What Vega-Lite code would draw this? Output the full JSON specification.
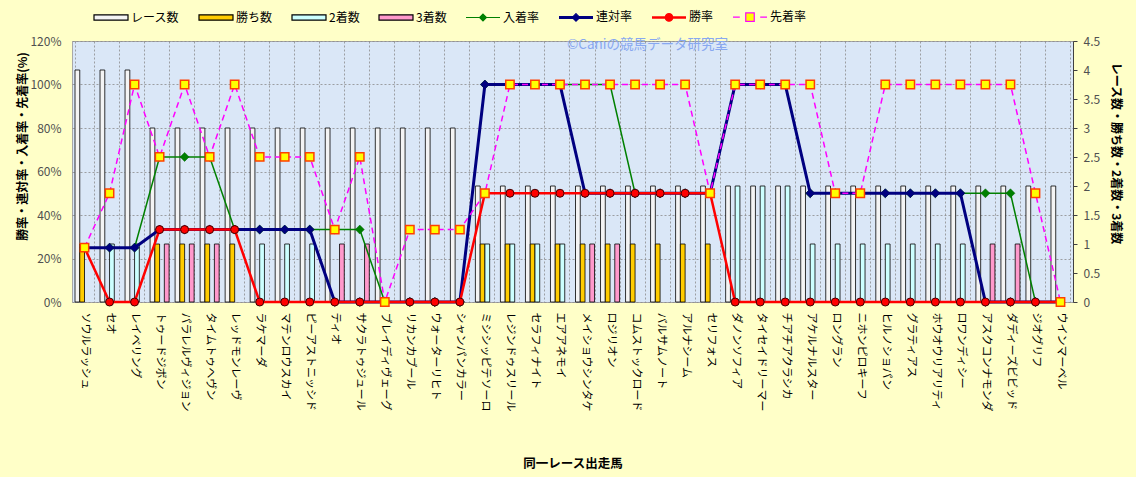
{
  "$schema": "https://vega.github.io/schema/vega-lite/v6.json",
  "width": 1001,
  "height": 261,
  "autosize": {"type": "none"},
  "padding": {"left": 72, "top": 41, "right": 63, "bottom": 175},
  "background": "#FFFFC8",
  "config": {
    "font": "Noto Sans CJK JP",
    "view": {"fill": "#DAE7F7", "stroke": "#A8A8A8", "strokeWidth": 1},
    "axis": {"labelFont": "Noto Sans CJK JP", "titleFont": "Noto Sans CJK JP"},
    "legend": {"labelFont": "Noto Sans CJK JP"}
  },
  "title": {
    "text": "©Caniの競馬データ研究室",
    "color": "#88A8F0",
    "fontSize": 13.5,
    "fontWeight": "normal",
    "anchor": "middle",
    "frame": "group",
    "baseline": "middle",
    "offset": 0,
    "dx": 75,
    "dy": 59,
    "zindex": 2
  },
  "data": {
    "values": [
      {"horse": "ソウルラッシュ", "レース数": 4, "勝ち数": 1, "2着数": 0, "3着数": 0, "勝率": 25, "連対率": 25, "入着率": 25, "先着率": 25},
      {"horse": "セオ", "レース数": 4, "勝ち数": 0, "2着数": 1, "3着数": 0, "勝率": 0, "連対率": 25, "入着率": 25, "先着率": 50},
      {"horse": "レイベリング", "レース数": 4, "勝ち数": 0, "2着数": 1, "3着数": 0, "勝率": 0, "連対率": 25, "入着率": 25, "先着率": 100},
      {"horse": "トゥードジボン", "レース数": 3, "勝ち数": 1, "2着数": 0, "3着数": 1, "勝率": 33.3, "連対率": 33.3, "入着率": 66.7, "先着率": 66.7},
      {"horse": "パラレルヴィジョン", "レース数": 3, "勝ち数": 1, "2着数": 0, "3着数": 1, "勝率": 33.3, "連対率": 33.3, "入着率": 66.7, "先着率": 100},
      {"horse": "タイムトゥヘヴン", "レース数": 3, "勝ち数": 1, "2着数": 0, "3着数": 1, "勝率": 33.3, "連対率": 33.3, "入着率": 66.7, "先着率": 66.7},
      {"horse": "レッドモンレーヴ", "レース数": 3, "勝ち数": 1, "2着数": 0, "3着数": 0, "勝率": 33.3, "連対率": 33.3, "入着率": 33.3, "先着率": 100},
      {"horse": "ラケマーダ", "レース数": 3, "勝ち数": 0, "2着数": 1, "3着数": 0, "勝率": 0, "連対率": 33.3, "入着率": 33.3, "先着率": 66.7},
      {"horse": "マテンロウスカイ", "レース数": 3, "勝ち数": 0, "2着数": 1, "3着数": 0, "勝率": 0, "連対率": 33.3, "入着率": 33.3, "先着率": 66.7},
      {"horse": "ピーアストニッシド", "レース数": 3, "勝ち数": 0, "2着数": 1, "3着数": 0, "勝率": 0, "連対率": 33.3, "入着率": 33.3, "先着率": 66.7},
      {"horse": "ティオ", "レース数": 3, "勝ち数": 0, "2着数": 0, "3着数": 1, "勝率": 0, "連対率": 0, "入着率": 33.3, "先着率": 33.3},
      {"horse": "サクラトゥジュール", "レース数": 3, "勝ち数": 0, "2着数": 0, "3着数": 1, "勝率": 0, "連対率": 0, "入着率": 33.3, "先着率": 66.7},
      {"horse": "ブレイディヴェーグ", "レース数": 3, "勝ち数": 0, "2着数": 0, "3着数": 0, "勝率": 0, "連対率": 0, "入着率": 0, "先着率": 0},
      {"horse": "リカンカブール", "レース数": 3, "勝ち数": 0, "2着数": 0, "3着数": 0, "勝率": 0, "連対率": 0, "入着率": 0, "先着率": 33.3},
      {"horse": "ウォーターリヒト", "レース数": 3, "勝ち数": 0, "2着数": 0, "3着数": 0, "勝率": 0, "連対率": 0, "入着率": 0, "先着率": 33.3},
      {"horse": "シャンパンカラー", "レース数": 3, "勝ち数": 0, "2着数": 0, "3着数": 0, "勝率": 0, "連対率": 0, "入着率": 0, "先着率": 33.3},
      {"horse": "ミシシッピテソーロ", "レース数": 2, "勝ち数": 1, "2着数": 1, "3着数": 0, "勝率": 50, "連対率": 100, "入着率": 100, "先着率": 50},
      {"horse": "レジンドゥスリール", "レース数": 2, "勝ち数": 1, "2着数": 1, "3着数": 0, "勝率": 50, "連対率": 100, "入着率": 100, "先着率": 100},
      {"horse": "セラフィナイト", "レース数": 2, "勝ち数": 1, "2着数": 1, "3着数": 0, "勝率": 50, "連対率": 100, "入着率": 100, "先着率": 100},
      {"horse": "エアアネモイ", "レース数": 2, "勝ち数": 1, "2着数": 1, "3着数": 0, "勝率": 50, "連対率": 100, "入着率": 100, "先着率": 100},
      {"horse": "メイショウシンタケ", "レース数": 2, "勝ち数": 1, "2着数": 0, "3着数": 1, "勝率": 50, "連対率": 50, "入着率": 100, "先着率": 100},
      {"horse": "ロジリオン", "レース数": 2, "勝ち数": 1, "2着数": 0, "3着数": 1, "勝率": 50, "連対率": 50, "入着率": 100, "先着率": 100},
      {"horse": "コムストックロード", "レース数": 2, "勝ち数": 1, "2着数": 0, "3着数": 0, "勝率": 50, "連対率": 50, "入着率": 50, "先着率": 100},
      {"horse": "バルサムノート", "レース数": 2, "勝ち数": 1, "2着数": 0, "3着数": 0, "勝率": 50, "連対率": 50, "入着率": 50, "先着率": 100},
      {"horse": "アルナシーム", "レース数": 2, "勝ち数": 1, "2着数": 0, "3着数": 0, "勝率": 50, "連対率": 50, "入着率": 50, "先着率": 100},
      {"horse": "セリフォス", "レース数": 2, "勝ち数": 1, "2着数": 0, "3着数": 0, "勝率": 50, "連対率": 50, "入着率": 50, "先着率": 50},
      {"horse": "ダノンソフィア", "レース数": 2, "勝ち数": 0, "2着数": 2, "3着数": 0, "勝率": 0, "連対率": 100, "入着率": 100, "先着率": 100},
      {"horse": "タイセイドリーマー", "レース数": 2, "勝ち数": 0, "2着数": 2, "3着数": 0, "勝率": 0, "連対率": 100, "入着率": 100, "先着率": 100},
      {"horse": "チアチアクラシカ", "レース数": 2, "勝ち数": 0, "2着数": 2, "3着数": 0, "勝率": 0, "連対率": 100, "入着率": 100, "先着率": 100},
      {"horse": "アケルナルスター", "レース数": 2, "勝ち数": 0, "2着数": 1, "3着数": 0, "勝率": 0, "連対率": 50, "入着率": 50, "先着率": 100},
      {"horse": "ロングラン", "レース数": 2, "勝ち数": 0, "2着数": 1, "3着数": 0, "勝率": 0, "連対率": 50, "入着率": 50, "先着率": 50},
      {"horse": "ニホンピロキーフ", "レース数": 2, "勝ち数": 0, "2着数": 1, "3着数": 0, "勝率": 0, "連対率": 50, "入着率": 50, "先着率": 50},
      {"horse": "ヒルノショパン", "レース数": 2, "勝ち数": 0, "2着数": 1, "3着数": 0, "勝率": 0, "連対率": 50, "入着率": 50, "先着率": 100},
      {"horse": "グラティアス", "レース数": 2, "勝ち数": 0, "2着数": 1, "3着数": 0, "勝率": 0, "連対率": 50, "入着率": 50, "先着率": 100},
      {"horse": "ホウオウリアリティ", "レース数": 2, "勝ち数": 0, "2着数": 1, "3着数": 0, "勝率": 0, "連対率": 50, "入着率": 50, "先着率": 100},
      {"horse": "ロワンディシー", "レース数": 2, "勝ち数": 0, "2着数": 1, "3着数": 0, "勝率": 0, "連対率": 50, "入着率": 50, "先着率": 100},
      {"horse": "アスクコンナモンダ", "レース数": 2, "勝ち数": 0, "2着数": 0, "3着数": 1, "勝率": 0, "連対率": 0, "入着率": 50, "先着率": 100},
      {"horse": "ダディーズビビッド", "レース数": 2, "勝ち数": 0, "2着数": 0, "3着数": 1, "勝率": 0, "連対率": 0, "入着率": 50, "先着率": 100},
      {"horse": "ジオグリフ", "レース数": 2, "勝ち数": 0, "2着数": 0, "3着数": 0, "勝率": 0, "連対率": 0, "入着率": 0, "先着率": 50},
      {"horse": "ウインマーベル", "レース数": 2, "勝ち数": 0, "2着数": 0, "3着数": 0, "勝率": 0, "連対率": 0, "入着率": 0, "先着率": 0}
    ]
  },
  "encoding": {
    "x": {
      "field": "horse",
      "type": "nominal",
      "sort": null,
      "scale": {
        "domain": ["ソウルラッシュ", "セオ", "レイベリング", "トゥードジボン", "パラレルヴィジョン", "タイムトゥヘヴン", "レッドモンレーヴ", "ラケマーダ", "マテンロウスカイ", "ピーアストニッシド", "ティオ", "サクラトゥジュール", "ブレイディヴェーグ", "リカンカブール", "ウォーターリヒト", "シャンパンカラー", "ミシシッピテソーロ", "レジンドゥスリール", "セラフィナイト", "エアアネモイ", "メイショウシンタケ", "ロジリオン", "コムストックロード", "バルサムノート", "アルナシーム", "セリフォス", "ダノンソフィア", "タイセイドリーマー", "チアチアクラシカ", "アケルナルスター", "ロングラン", "ニホンピロキーフ", "ヒルノショパン", "グラティアス", "ホウオウリアリティ", "ロワンディシー", "アスクコンナモンダ", "ダディーズビビッド", "ジオグリフ", "ウインマーベル"],
        "paddingInner": 0.24,
        "paddingOuter": 0.12
      },
      "axis": {
        "title": "同一レース出走馬",
        "titleFontSize": 12.5,
        "titleFontWeight": "bold",
        "titleColor": "#000000",
        "titleY": 161,
        "titleBaseline": "middle",
        "labelAngle": 90,
        "labelFontSize": 11,
        "labelColor": "#000000",
        "labelPadding": 10,
        "labelLimit": 200,
        "ticks": false,
        "domain": false,
        "grid": true,
        "gridColor": "#8C8C8C",
        "gridDash": [2, 2],
        "gridWidth": 0.8,
        "tickBand": "extent"
      }
    }
  },
  "layer": [
    {
      "transform": [
        {"fold": ["レース数", "勝ち数", "2着数", "3着数"], "as": ["key", "value"]},
        {"filter": "datum.value > 0"}
      ],
      "mark": {"type": "bar", "stroke": "#000000", "strokeWidth": 0.8},
      "encoding": {
        "xOffset": {
          "field": "key",
          "type": "nominal",
          "scale": {"domain": ["レース数", "勝ち数", "2着数", "3着数"], "paddingInner": 0, "paddingOuter": 0}
        },
        "y": {
          "field": "value",
          "type": "quantitative",
          "scale": {"domain": [0, 4.5], "nice": false},
          "axis": {
            "orient": "right",
            "title": "レース数・勝ち数・2着数・3着数",
            "values": [0, 0.5, 1, 1.5, 2, 2.5, 3, 3.5, 4, 4.5],
            "format": "~g",
            "grid": false,
            "tickSize": 4,
            "tickColor": "#404040",
            "domainColor": "#404040",
            "labelColor": "#505050",
            "labelFontSize": 12,
            "labelPadding": 6,
            "titleAngle": 90,
            "titleX": 42,
            "titleY": 112,
            "titleAlign": "center",
            "titleBaseline": "middle",
            "titleFontSize": 12,
            "titleFontWeight": "bold",
            "titleColor": "#000000"
          }
        },
        "color": {
          "field": "key",
          "type": "nominal",
          "scale": {
            "domain": ["レース数", "勝ち数", "2着数", "3着数"],
            "range": ["#F4F4F4", "#FFCC00", "#CCFFFF", "#FF99CC"]
          },
          "legend": null
        }
      }
    },
    {
      "transform": [
        {"fold": ["入着率", "連対率", "勝率", "先着率"], "as": ["series", "rate"]}
      ],
      "encoding": {
        "y": {
          "field": "rate",
          "type": "quantitative",
          "scale": {"domain": [0, 120], "nice": false},
          "axis": {
            "orient": "left",
            "title": "勝率・連対率・入着率・先着率(%)",
            "values": [0, 20, 40, 60, 80, 100, 120],
            "labelExpr": "datum.value + '%'",
            "grid": true,
            "gridColor": "#8C8C8C",
            "gridDash": [2, 2],
            "gridWidth": 0.8,
            "ticks": false,
            "domain": false,
            "labelColor": "#505050",
            "labelFontSize": 12,
            "labelPadding": 11,
            "titleX": -50,
            "titleY": 105,
            "titleAngle": -90,
            "titleAlign": "center",
            "titleBaseline": "middle",
            "titleFontSize": 12,
            "titleFontWeight": "bold",
            "titleColor": "#000000"
          }
        }
      },
      "layer": [
        {"transform": [{"filter": "datum.series == '入着率'"}], "mark": {"type": "line", "color": "#008000", "strokeWidth": 1.5}},
        {"transform": [{"filter": "datum.series == '入着率'"}], "mark": {"type": "point", "shape": "diamond", "filled": true, "size": 80, "fill": "#008000", "stroke": "#006000", "strokeWidth": 0.5, "opacity": 1}},
        {"transform": [{"filter": "datum.series == '連対率'"}], "mark": {"type": "line", "color": "#000080", "strokeWidth": 3}},
        {"transform": [{"filter": "datum.series == '連対率'"}], "mark": {"type": "point", "shape": "diamond", "filled": true, "size": 80, "fill": "#000080", "stroke": "#000060", "strokeWidth": 0.5, "opacity": 1}},
        {"transform": [{"filter": "datum.series == '勝率'"}], "mark": {"type": "line", "color": "#FF0000", "strokeWidth": 2.5}},
        {"transform": [{"filter": "datum.series == '勝率'"}], "mark": {"type": "point", "shape": "circle", "filled": true, "size": 64, "fill": "#FF0000", "stroke": "#400000", "strokeWidth": 1, "opacity": 1}},
        {"transform": [{"filter": "datum.series == '先着率'"}], "mark": {"type": "line", "color": "#FF00FF", "strokeWidth": 1.5, "strokeDash": [6, 4]}},
        {"transform": [{"filter": "datum.series == '先着率'"}], "mark": {"type": "point", "shape": "square", "filled": true, "size": 70, "fill": "#FFFF00", "stroke": "#FF4000", "strokeWidth": 1.5, "opacity": 1}},
        {
          "transform": [{"filter": "false"}],
          "mark": {"type": "point", "filled": true, "opacity": 1},
          "encoding": {
            "fill": {
              "field": "series",
              "type": "nominal",
              "scale": {
                "domain": ["レース数", "勝ち数", "2着数", "3着数", "入着率", "連対率", "勝率", "先着率"],
                "range": ["#F4F4F4", "#FFCC00", "#CCFFFF", "#FF99CC", "#008000", "#000080", "#FF0000", "#FFFF00"]
              },
              "legend": {"title": null, "orient": "none", "legendX": 21, "legendY": -42, "direction": "horizontal", "columns": 8, "gridAlign": "each", "symbolSize": 1156, "symbolStrokeWidth": 1.2, "symbolOpacity": 1, "labelFontSize": 12, "labelColor": "#000000", "labelOffset": 2, "columnPadding": 16, "padding": 0}
            },
            "stroke": {
              "field": "series",
              "type": "nominal",
              "scale": {
                "domain": ["レース数", "勝ち数", "2着数", "3着数", "入着率", "連対率", "勝率", "先着率"],
                "range": ["#000000", "#000000", "#000000", "#000000", "#008000", "#000080", "#FF0000", "#FF00FF"]
              },
              "legend": {"title": null, "orient": "none", "legendX": 21, "legendY": -42, "direction": "horizontal", "columns": 8, "gridAlign": "each", "symbolSize": 1156, "symbolStrokeWidth": 1.2, "symbolOpacity": 1, "labelFontSize": 12, "labelColor": "#000000", "labelOffset": 2, "columnPadding": 16, "padding": 0}
            },
            "shape": {
              "field": "series",
              "type": "nominal",
              "scale": {
                "domain": ["レース数", "勝ち数", "2着数", "3着数", "入着率", "連対率", "勝率", "先着率"],
                "range": [
                  "M-1,-0.16H1V0.16H-1Z",
                  "M-1,-0.16H1V0.16H-1Z",
                  "M-1,-0.16H1V0.16H-1Z",
                  "M-1,-0.16H1V0.16H-1Z",
                  "M-1,0H1M0,-0.2L0.2,0L0,0.2L-0.2,0Z",
                  "M-1,0H1M-1,0.05H1M-1,-0.05H1M0,-0.22L0.22,0L0,0.22L-0.22,0Z",
                  "M-1,0H1M-1,0.04H1M-1,-0.04H1M0.22,0A0.22,0.22,0,1,1,-0.22,0A0.22,0.22,0,1,1,0.22,0Z",
                  "M-1,0H-0.6M0.6,0H1M-0.25,-0.25H0.25V0.25H-0.25Z"
                ]
              },
              "legend": {"title": null, "orient": "none", "legendX": 21, "legendY": -42, "direction": "horizontal", "columns": 8, "gridAlign": "each", "symbolSize": 1156, "symbolStrokeWidth": 1.2, "symbolOpacity": 1, "labelFontSize": 12, "labelColor": "#000000", "labelOffset": 2, "columnPadding": 16, "padding": 0}
            }
          }
        }
      ]
    }
  ],
  "resolve": {"scale": {"y": "independent"}, "axis": {"y": "independent"}}
}
